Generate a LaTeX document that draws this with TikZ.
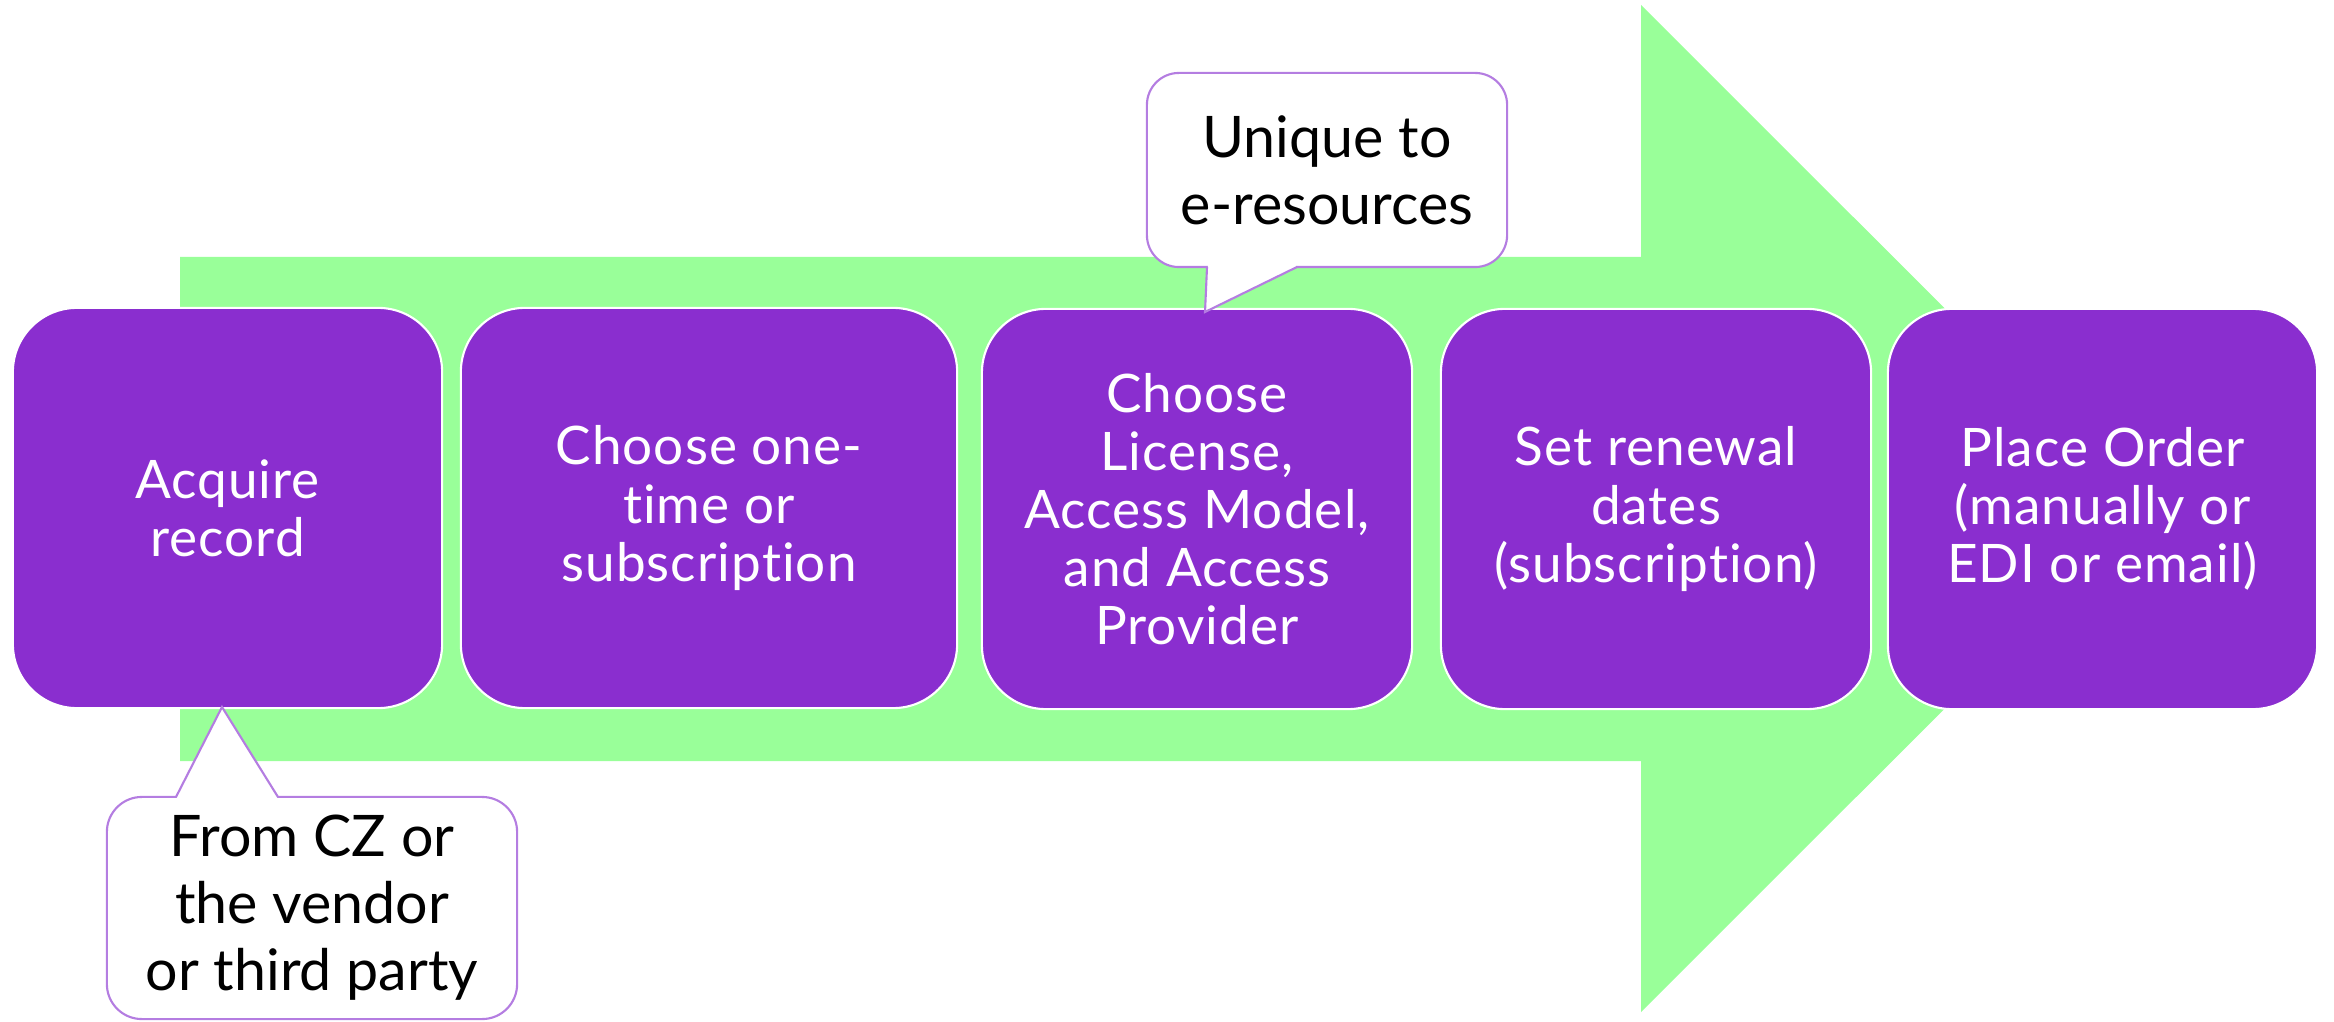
\documentclass[tikz,border=0pt]{standalone}
\usepackage{fontspec}
\setmainfont{Lato}[Ligatures=NoCommon]
\newfontfamily\boxfont{Lato}[Ligatures=NoCommon, LetterSpace=2]
\definecolor{boxpurple}{RGB}{138,46,207}
\definecolor{arrowgreen}{RGB}{153,255,153}
\definecolor{calloutline}{RGB}{180,125,225}
\begin{document}
\begin{tikzpicture}[x=0.01cm,y=-0.01cm,
  stepbox/.style={draw=white, line width=0.6pt, fill=boxpurple, rounded corners=0.64cm,
    text=white, align=center, minimum height=4cm, inner sep=0pt,
    font=\boxfont\fontsize{15.1}{16.5}\selectfont},
  calloutbox/.style={draw=calloutline, line width=0.6pt, fill=white, align=center,
    text=black, inner sep=0pt, font=\fontsize{16.3}{19.06}\selectfont},
  pointer/.style={draw=calloutline, line width=0.6pt, line join=miter}]
\useasboundingbox (0,0) rectangle (2334,1022);
% big arrow
\fill[arrowgreen] (180,257) -- (1641,257) -- (1641,5) -- (2145,508.5)
  -- (1641,1012) -- (1641,761) -- (180,761) -- cycle;
% steps
\node[stepbox, minimum width=4.29cm] (s1) at (227.5,508) {Acquire\\record};
\node[stepbox, minimum width=4.96cm] (s2) at (709,508) {Choose one-\\time or\\subscription};
\node[stepbox, minimum width=4.30cm] (s3) at (1197,509) {Choose\\License,\\Access Model,\\and Access\\Provider};
\node[stepbox, minimum width=4.30cm] (s4) at (1656,509) {Set renewal\\dates\\(subscription)};
\node[stepbox, minimum width=4.29cm] (s5) at (2102.5,509) {Place Order\\(manually or\\EDI or email)};
% callout top
\node[calloutbox, rounded corners=0.32cm, minimum width=3.60cm, minimum height=1.94cm]
  (c1) at (1327,170) {Unique to\\e-resources};
\coordinate (t1) at (1205,312);
\fill[white] (1208,265) rectangle (1296,268);
\fill[white] (1207,267) -- (t1) -- (1297,267) -- cycle;
\draw[pointer] (1207,267) -- (t1) -- (1297,267);
% callout bottom
\node[calloutbox, rounded corners=0.35cm, minimum width=4.10cm, minimum height=2.22cm]
  (c2) at (312,908) {From CZ or\\the vendor\\or third party};
\coordinate (t2) at (222,707);
\fill[white] (177,796) rectangle (277,799);
\fill[white] (176,797) -- (t2) -- (278,797) -- cycle;
\draw[pointer] (176,797) -- (t2) -- (278,797);
\end{tikzpicture}
\end{document}
